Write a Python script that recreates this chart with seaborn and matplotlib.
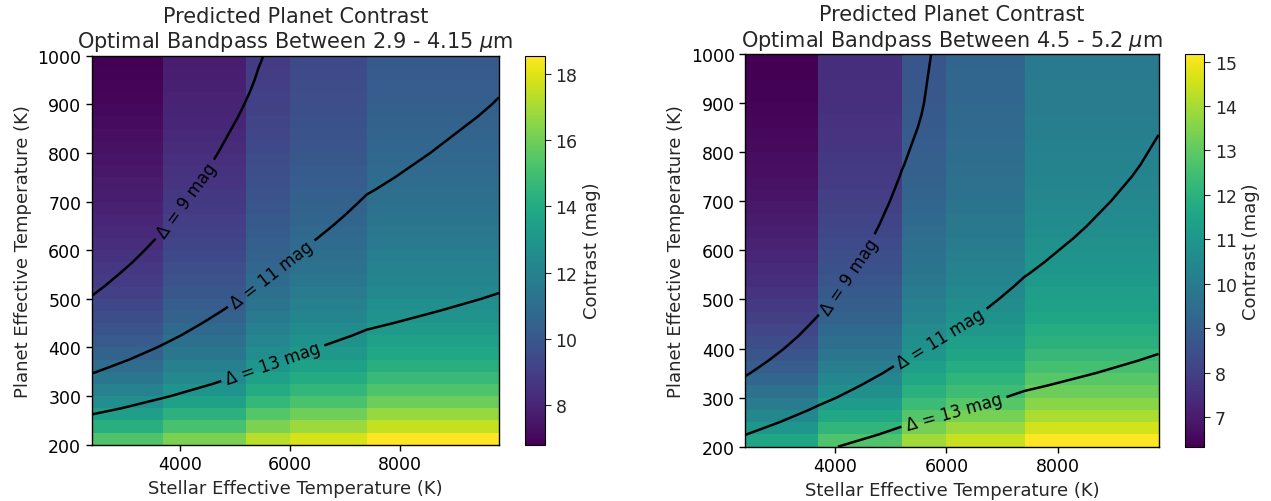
import numpy as np
import matplotlib
matplotlib.use("Agg")
import matplotlib.pyplot as plt
import seaborn as sns

# ---------------- data ----------------
stellar_teff = [2400, 3700, 5200, 6000, 7400, 9800]
planet_teff = [200, 225, 250, 275, 300, 325, 350, 375, 400, 425, 450, 475,
               500, 525, 550, 575, 600, 625, 650, 675, 700, 725, 750, 775,
               800, 825, 850, 875, 900, 925, 950, 975, 1000]

# Left panel (2.9 - 4.15 um): contrast vs planet Teff for the coolest star,
# plus the offset added for each hotter stellar grid point
left_contrast_cool_star = [15.25, 14.22, 13.37, 12.61, 11.97, 11.41, 10.93, 10.51,
                           10.15, 9.83, 9.55, 9.29, 9.05, 8.84, 8.65, 8.47,
                           8.31, 8.16, 8.02, 7.89, 7.77, 7.65, 7.54, 7.44,
                           7.34, 7.25, 7.16, 7.07, 6.99, 6.92, 6.86, 6.81, 6.75]
left_star_offset = [0.0, 0.93, 2.03, 2.58, 3.30, 4.05]

# Right panel (4.5 - 5.2 um)
right_contrast_cool_star = [11.57, 10.98, 10.46, 10.00, 9.59, 9.24, 8.92, 8.64,
                            8.39, 8.17, 7.98, 7.80, 7.65, 7.51, 7.38, 7.27,
                            7.17, 7.07, 6.98, 6.90, 6.82, 6.75, 6.68, 6.62,
                            6.57, 6.52, 6.47, 6.43, 6.40, 6.38, 6.36, 6.34, 6.32]
right_star_offset = [0.0, 1.14, 2.35, 2.85, 3.60, 4.50]

contour_levels = [9, 11, 13]
titles = ["Predicted Planet Contrast\nOptimal Bandpass Between 2.9 - 4.15 $\\mu$m",
          "Predicted Planet Contrast\nOptimal Bandpass Between 4.5 - 5.2 $\\mu$m"]
xticks = [4000, 6000, 8000]
yticks = [200, 300, 400, 500, 600, 700, 800, 900, 1000]

# label anchor guesses (data coords) for contour labels
left_label_pos = [(4150, 700), (5600, 560), (5700, 365)]
right_label_pos = [(4350, 540), (5850, 430), (6150, 265)]

# ---------------- styling ----------------
sns.set_style("ticks")
plt.rcParams["font.family"] = ["DejaVu Sans"]
plt.rcParams["xtick.direction"] = "out"
plt.rcParams["ytick.direction"] = "out"
cmap = sns.color_palette("viridis", as_cmap=True)

fig = plt.figure(figsize=(12.71, 5.02), dpi=100)

panels = [
    dict(f=left_contrast_cool_star, s=left_star_offset, title=titles[0],
         ax=[0.0721, 0.1122, 0.3205, 0.7749], cax=[0.4131, 0.1122, 0.0157, 0.7749],
         lab=left_label_pos),
    dict(f=right_contrast_cool_star, s=right_star_offset, title=titles[1],
         ax=[0.5864, 0.1082, 0.3251, 0.7823], cax=[0.9323, 0.1082, 0.0152, 0.7823],
         lab=right_label_pos),
]

x = np.array(stellar_teff, dtype=float)
y = np.array(planet_teff, dtype=float)

for p in panels:
    Z = np.array(p["f"])[:, None] + np.array(p["s"])[None, :]
    ax = fig.add_axes(p["ax"])
    cax = fig.add_axes(p["cax"])
    mesh = ax.pcolormesh(x, y, Z[:-1, :-1], cmap=cmap, shading="flat")
    cs = ax.contour(x, y, Z, levels=contour_levels, colors="k", linewidths=1.8)
    ax.clabel(cs, fmt=lambda v: "\u0394 = %d mag" % v, fontsize=12,
              inline=True, manual=p["lab"])
    ax.set_xlim(x[0], x[-1])
    ax.set_ylim(y[0], y[-1])
    ax.set_xticks(xticks)
    ax.set_yticks(yticks)
    ax.tick_params(labelsize=12.5, length=4, width=1, colors="black")
    for sp in ax.spines.values():
        sp.set_visible(True)
        sp.set_color("black")
        sp.set_linewidth(1)
    ax.set_xlabel("Stellar Effective Temperature (K)", fontsize=13)
    ax.set_ylabel("Planet Effective Temperature (K)", fontsize=13)
    ax.set_title(p["title"], fontsize=15)
    cb = fig.colorbar(mesh, cax=cax)
    cb.set_label("Contrast (mag)", fontsize=13)
    cb.ax.tick_params(labelsize=12.5, length=4)
    cb.outline.set_edgecolor("black")

fig.savefig("out.png", dpi=100)
